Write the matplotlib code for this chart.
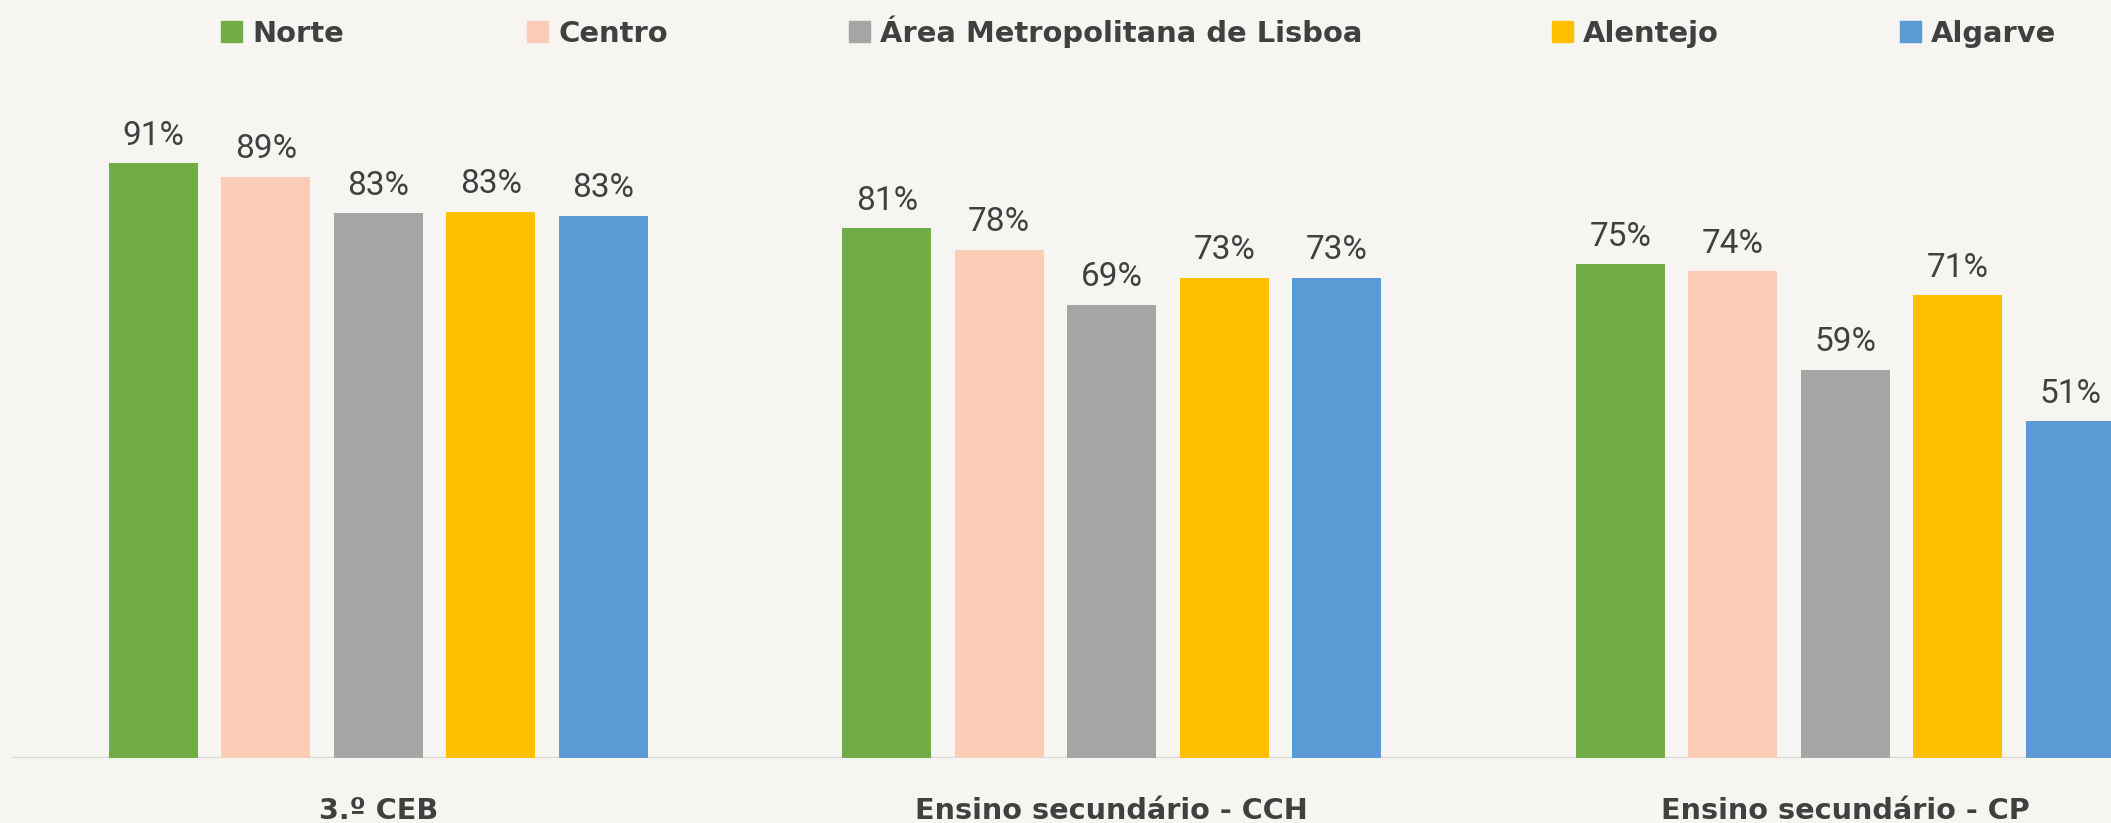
import matplotlib.pyplot as plt
from matplotlib.patches import Rectangle
from matplotlib.transforms import blended_transform_factory
import numpy as np

# Données
categories = ['3.º CEB', 'Ensino secundário - CCH', 'Ensino secundário - CP']
regions = ['Norte', 'Centro', 'Área Metropolitana de Lisboa', 'Alentejo', 'Algarve']
norte = [90.8, 80.9, 75.4]
centro = [88.7, 77.6, 74.3]
lisboa = [83.2, 69.2, 59.3]
alentejo = [83.4, 73.3, 70.6]
algarve = [82.8, 73.3, 51.4]
series = [norte, centro, lisboa, alentejo, algarve]

colors = ['#70AD47', '#FBCDB6', '#A5A5A5', '#FFC000', '#5B9BD5']
bg = '#F6F5F1'
text_color = '#404040'

W, H = 2111, 823
fig = plt.figure(figsize=(W / 100, H / 100), dpi=100, facecolor=bg)
ax = fig.add_axes([11.5 / W, 64.7 / H, 1 - 11.5 / W, 649 / H])
ax.set_facecolor(bg)

x = np.arange(len(categories))
step = 112.5 / 733.5
width = 88.6 / 733.5

for i, (vals, col) in enumerate(zip(series, colors)):
    pos = x + (i - 2) * step
    bars = ax.bar(pos, vals, width, color=col, zorder=3)
    for b, v in zip(bars, vals):
        ax.annotate(f'{v:.0f}%', (b.get_x() + b.get_width() / 2, v),
                    xytext=(0, 13.2), textcoords='offset points',
                    ha='center', va='baseline', fontsize=24,
                    family='Roboto', color=text_color)

ax.axhline(0, color='#D9D9D9', lw=1.6, zorder=2)
ax.set_xlim(-0.5, -0.5 + (W - 11.5) / 733.5)
ax.set_ylim(0, 99)
ax.axis('off')

# Libellés des catégories
trans = blended_transform_factory(ax.transData, fig.transFigure)
for xi, cat in zip(x, categories):
    ax.text(xi, 4 / H, cat, transform=trans, ha='center', va='baseline',
            fontsize=20.7, fontweight='bold', family='DejaVu Sans',
            color=text_color, clip_on=False)

# Légende
leg_x = [221, 527, 849, 1552, 1900]
for lx, name, col in zip(leg_x, regions, colors):
    fig.add_artist(Rectangle((lx / W, 1 - 42 / H), 21 / W, 21 / H,
                             transform=fig.transFigure, color=col))
    fig.text((lx + 31) / W, 1 - 42 / H, name, ha='left', va='baseline',
             fontsize=20.9, fontweight='bold', family='DejaVu Sans',
             color=text_color)

fig.savefig('out.png', dpi=100, facecolor=bg)
